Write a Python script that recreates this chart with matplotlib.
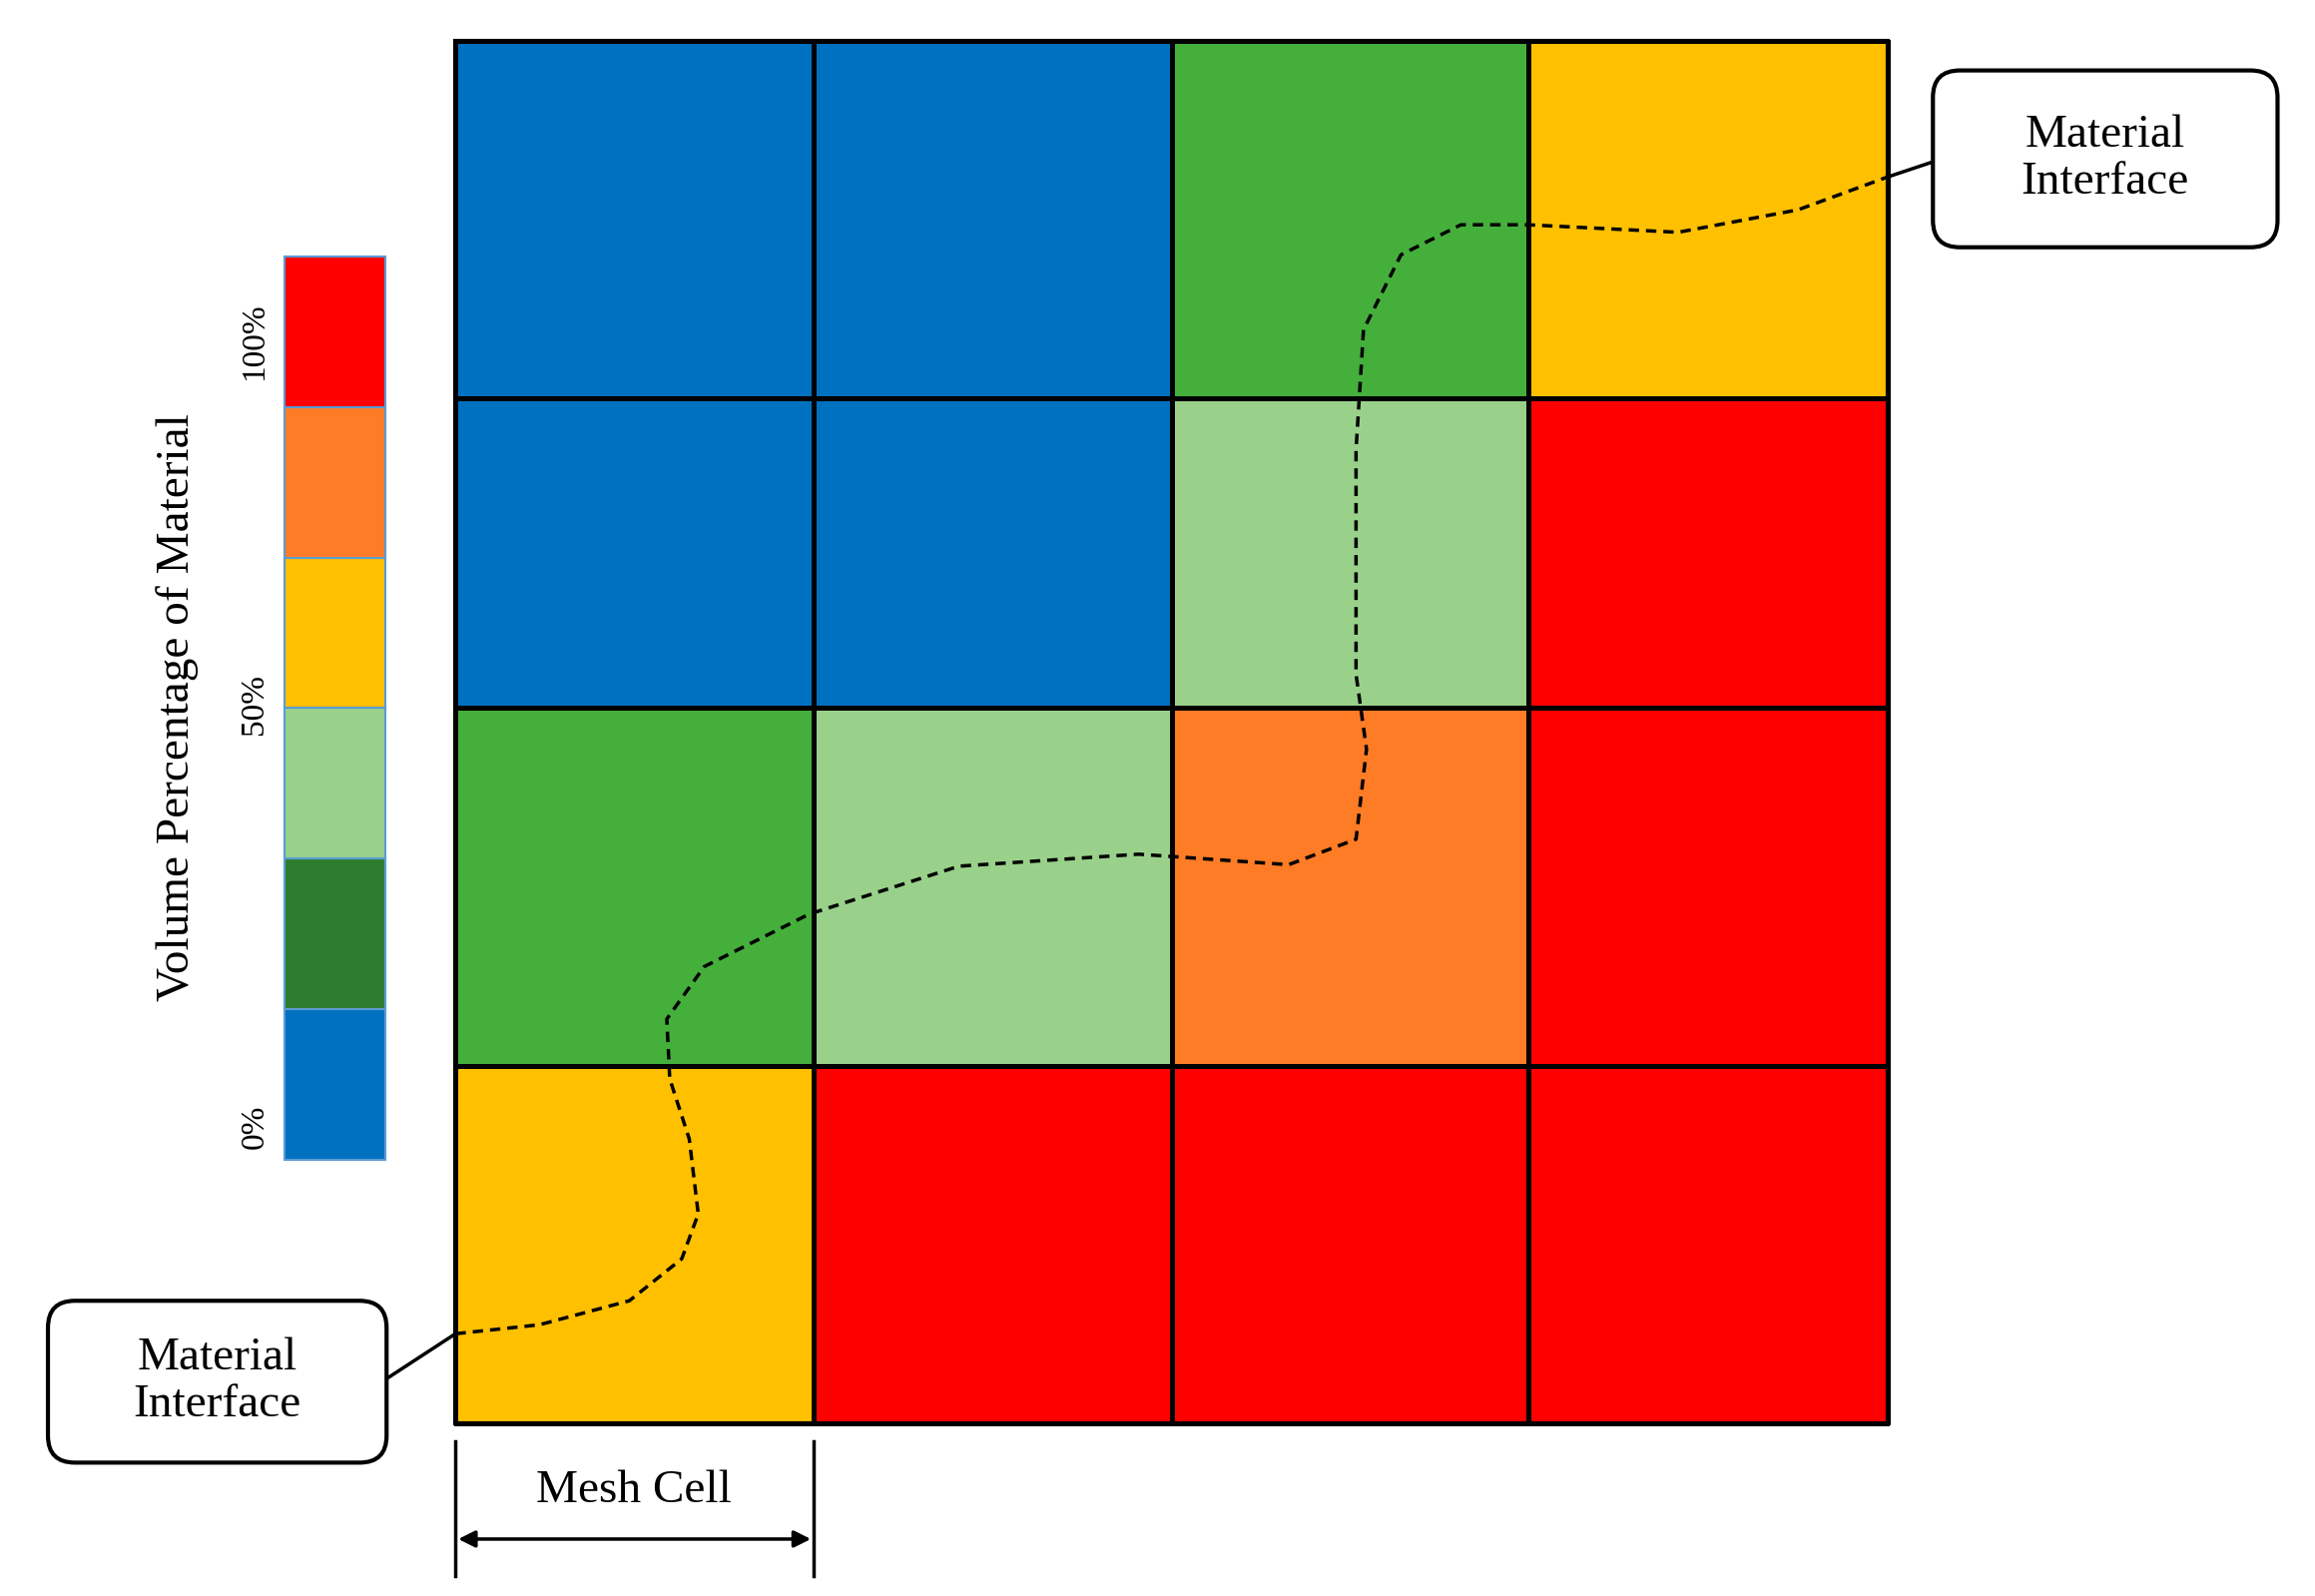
import matplotlib
matplotlib.use("Agg")
import matplotlib.pyplot as plt
import numpy as np
from matplotlib.colors import ListedColormap
from matplotlib.patches import FancyBboxPatch, Rectangle

plt.rcParams['font.family'] = ['Liberation Serif', 'DejaVu Serif']

# Data
level_names = ["0%", "", "", "50%", "", "100%"]
bar_colors = ["#0070C0", "#2E7D2E", "#99D18B", "#FFC000", "#FF7C26", "#FF0000"]
cell_palette = {"blue": "#0070C0", "green": "#45AF3C", "lgreen": "#99D18B",
                "yellow": "#FFC000", "orange": "#FF7C26", "red": "#FF0000"}
grid_cells = [["blue", "blue", "green", "yellow"],
              ["blue", "blue", "lgreen", "red"],
              ["green", "lgreen", "orange", "red"],
              ["yellow", "red", "red", "red"]]
col_edges = [304, 543, 782, 1020, 1260]
row_edges = [27, 266, 472, 711, 950]
iface_x = [304, 360, 420, 455, 466, 460, 447, 445, 470, 540, 640, 760, 860, 905, 912, 905, 905, 910, 935, 975, 1020, 1120, 1200, 1260]
iface_y = [890, 884, 868, 840, 810, 760, 720, 680, 645, 610, 578, 570, 577, 560, 500, 450, 300, 220, 170, 150, 150, 155, 140, 118]

W, H = 1545, 1065
fig = plt.figure(figsize=(23.19, 15.99), dpi=100)
ax = fig.add_axes([0, 0, 1, 1])
ax.set_xlim(0, W); ax.set_ylim(H, 0); ax.axis('off')

names = list(cell_palette.keys())
idx = np.array([[names.index(c) for c in row] for row in grid_cells])
cmap = ListedColormap([cell_palette[n] for n in names])
ax.pcolormesh(col_edges, row_edges, idx, cmap=cmap, vmin=-0.5, vmax=len(names) - 0.5,
              edgecolors='black', linewidth=2.5)
ax.add_patch(Rectangle((col_edges[0], row_edges[0]), col_edges[-1] - col_edges[0],
                       row_edges[-1] - row_edges[0], fill=False, ec='black', lw=3, zorder=3))

# interface curve
ax.plot(iface_x, iface_y, ls=(0, (3, 2)), color='black', lw=2.5, zorder=4)

# colorbar
cb_x0, cb_x1, cb_top, cb_bot = 190, 257, 171, 774
seg = (cb_bot - cb_top) / len(bar_colors)
for i, c in enumerate(bar_colors):
    y0 = cb_bot - (i + 1) * seg
    ax.add_patch(Rectangle((cb_x0, y0), cb_x1 - cb_x0, seg, fc=c, ec='#5B9BD5', lw=1.5))
ax.text(170, 752, "0%", rotation=90, ha='center', va='center', fontsize=24)
ax.text(170, 470, "50%", rotation=90, ha='center', va='center', fontsize=24)
ax.text(170, 228, "100%", rotation=90, ha='center', va='center', fontsize=24)
ax.text(118, 472, "Volume Percentage of Material", rotation=90, ha='center', va='center', fontsize=34)

# callouts
def callout(x0, y0, x1, y1, lx0, ly0, lx1, ly1):
    ax.add_patch(FancyBboxPatch((x0, y0), x1 - x0, y1 - y0,
                                boxstyle="round,pad=0,rounding_size=18",
                                fc='white', ec='black', lw=3, zorder=5))
    ax.text((x0 + x1) / 2, (y0 + y1) / 2, "Material\nInterface", ha='center', va='center',
            fontsize=34, linespacing=1.15, zorder=6)
    ax.plot([lx0, lx1], [ly0, ly1], color='black', lw=2.5, zorder=4)

callout(1290, 47, 1520, 165, 1260, 118, 1290, 108)
callout(32, 868, 258, 976, 258, 920, 304, 890)

# mesh cell dimension
ax.plot([304, 304], [962, 1052], color='black', lw=2.5)
ax.plot([543, 543], [962, 1052], color='black', lw=2.5)
ax.annotate("", xy=(304, 1027), xytext=(543, 1027),
            arrowprops=dict(arrowstyle='<|-|>', color='black', lw=2.5, mutation_scale=25))
ax.text(423, 995, "Mesh Cell", ha='center', va='center', fontsize=34)

fig.savefig("out.png", dpi=100)
